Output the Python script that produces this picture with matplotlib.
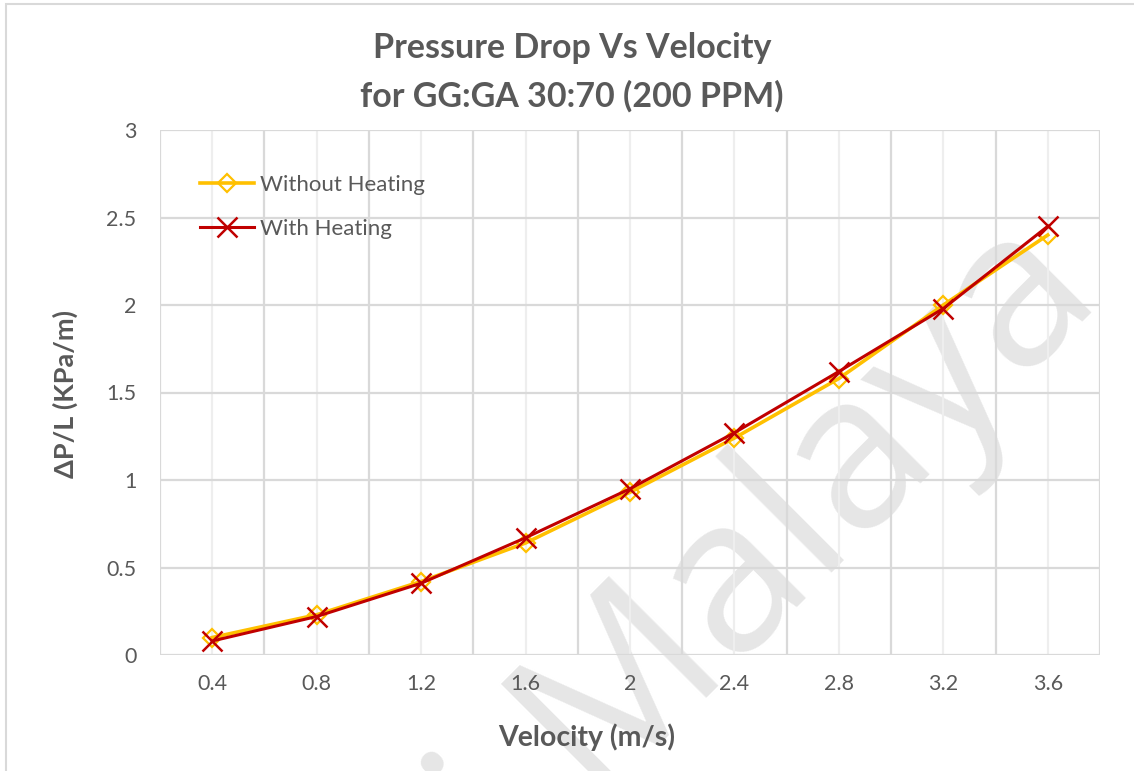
import matplotlib.pyplot as plt
from matplotlib.patches import Rectangle
import numpy as np

velocity = ["0.4", "0.8", "1.2", "1.6", "2", "2.4", "2.8", "3.2", "3.6"]
without_heating = [0.10, 0.23, 0.42, 0.64, 0.93, 1.24, 1.58, 2.00, 2.40]
with_heating = [0.08, 0.22, 0.41, 0.67, 0.95, 1.27, 1.62, 1.98, 2.45]
y_ticks = [0, 0.5, 1, 1.5, 2, 2.5, 3]
y_labels = ["0", "0.5", "1", "1.5", "2", "2.5", "3"]

plt.rcParams['font.family'] = ['Lato', 'DejaVu Sans']
txt = '#595959'
grid = '#d9d9d9'

fig = plt.figure(figsize=(11.34, 7.71), dpi=100)
fig.patches.append(Rectangle((6/1134, -0.1), 1.2, 1 - 4/771 + 0.1, transform=fig.transFigure,
                             fill=False, edgecolor=grid, linewidth=1.5))

ax = fig.add_axes([160/1134, 1 - 655/771, 940/1134, 525/771])
x = np.arange(len(velocity))

# watermark (cut off at the bottom edge like the source), behind everything
fig.text(1105/1134, 1 - 300/771, "Universiti Malaya", rotation=45, rotation_mode='anchor',
         ha='right', va='baseline', fontsize=156, color='#e6e6e6', family='Open Sans', zorder=-1)
ax.patch.set_alpha(0)

ax.plot(x, without_heating, color='#ffc000', lw=2.6, marker='D', markersize=9,
        markerfacecolor='none', markeredgecolor='#ffc000', markeredgewidth=1.6,
        label='Without Heating', zorder=3)
ax.plot(x, with_heating, color='#c00000', lw=2.2, marker='x', markersize=14,
        markeredgewidth=1.8, label='With Heating', zorder=4)

ax.set_xlim(-0.5, len(velocity) - 0.5)
ax.set_ylim(0, 3)
ax.set_xticks(x)
ax.set_xticklabels(velocity)
ax.set_yticks(y_ticks)
ax.set_yticklabels(y_labels)

# excel style grid: boundaries darker, centers lighter
for b in np.arange(-0.5, len(velocity)):
    ax.axvline(b, color=grid, lw=1.6, zorder=1)
for c in x:
    ax.axvline(c, color='#eeeeee', lw=1.6, zorder=1)
for t in y_ticks:
    ax.axhline(t, color=grid, lw=1.6, zorder=1)

for s in ax.spines.values():
    s.set_visible(False)
ax.tick_params(length=0, labelsize=15.5, labelcolor=txt, pad=14)
ax.tick_params(axis='y', pad=17)

ax.set_xlabel("Velocity (m/s)", fontsize=20.5, fontweight='bold', color=txt)
ax.xaxis.set_label_coords((587 - 160) / 940, -(737 - 655) / 525)
ax.xaxis.label.set_va('center')
ax.set_ylabel("ΔP/L (KPa/m)", fontsize=19.5, fontweight='bold', color=txt)
ax.yaxis.set_label_coords(-(160 - 65) / 940, (655 - 394) / 525)
ax.yaxis.label.set_va('center')

fig.text(572/1134, 1 - 48/771, "Pressure Drop Vs Velocity", ha='center', va='center',
         fontsize=24.5, fontweight='bold', color=txt)
fig.text(572/1134, 1 - 96/771, "for GG:GA 30:70 (200 PPM)", ha='center', va='center',
         fontsize=24.5, fontweight='bold', color=txt)

ax.legend(loc='upper left', bbox_to_anchor=(200/1134, 1 - 175/771), bbox_transform=fig.transFigure,
          frameon=False, fontsize=16, handlelength=2.45, handletextpad=0.25, labelspacing=1.07,
          borderpad=0, borderaxespad=0, labelcolor=txt)

fig.savefig("out.png", dpi=100)
